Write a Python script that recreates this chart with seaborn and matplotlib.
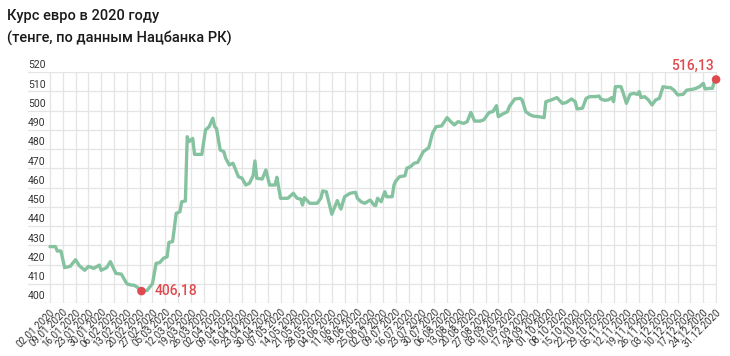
import pandas as pd
import matplotlib.pyplot as plt
import matplotlib.transforms as mtransforms
import seaborn as sns

# EUR/KZT rate
dates = [
    "2020-01-02", "2020-01-05", "2020-01-06", "2020-01-08", "2020-01-10", "2020-01-13",
    "2020-01-16", "2020-01-18", "2020-01-21", "2020-01-23", "2020-01-26", "2020-01-29",
    "2020-01-30",
    "2020-02-02", "2020-02-04", "2020-02-07", "2020-02-10", "2020-02-13", "2020-02-15",
    "2020-02-17", "2020-02-19", "2020-02-21", "2020-02-24", "2020-02-27", "2020-02-29",
    "2020-03-02", "2020-03-04", "2020-03-06", "2020-03-07", "2020-03-09", "2020-03-11",
    "2020-03-13", "2020-03-14", "2020-03-16", "2020-03-17", "2020-03-18", "2020-03-20",
    "2020-03-21", "2020-03-25", "2020-03-27", "2020-03-29", "2020-03-31",
    "2020-04-01", "2020-04-02", "2020-04-04", "2020-04-06", "2020-04-07", "2020-04-09",
    "2020-04-11", "2020-04-14", "2020-04-16", "2020-04-18", "2020-04-20", "2020-04-22",
    "2020-04-23", "2020-04-24", "2020-04-27", "2020-04-29",
    "2020-05-01", "2020-05-04", "2020-05-05", "2020-05-07", "2020-05-11", "2020-05-14",
    "2020-05-16", "2020-05-18", "2020-05-19", "2020-05-20", "2020-05-23", "2020-05-27",
    "2020-05-29", "2020-05-30",
    "2020-06-01", "2020-06-04", "2020-06-07", "2020-06-09", "2020-06-11", "2020-06-14",
    "2020-06-17", "2020-06-18", "2020-06-20", "2020-06-22", "2020-06-25", "2020-06-27",
    "2020-06-28", "2020-06-29",
    "2020-07-01", "2020-07-03", "2020-07-04", "2020-07-07", "2020-07-08", "2020-07-09",
    "2020-07-11", "2020-07-14", "2020-07-15", "2020-07-17", "2020-07-19", "2020-07-21",
    "2020-07-24", "2020-07-27", "2020-07-29", "2020-07-31",
    "2020-08-03", "2020-08-06", "2020-08-08", "2020-08-10", "2020-08-12", "2020-08-15",
    "2020-08-17", "2020-08-19", "2020-08-21", "2020-08-24", "2020-08-26", "2020-08-29",
    "2020-08-31",
    "2020-09-02", "2020-09-03", "2020-09-05", "2020-09-08", "2020-09-09", "2020-09-12",
    "2020-09-15", "2020-09-16", "2020-09-18", "2020-09-20", "2020-09-22", "2020-09-25",
    "2020-09-28", "2020-09-29",
    "2020-10-02", "2020-10-05", "2020-10-08", "2020-10-10", "2020-10-13", "2020-10-15",
    "2020-10-16", "2020-10-19", "2020-10-21", "2020-10-23", "2020-10-26", "2020-10-28",
    "2020-10-29", "2020-10-31",
    "2020-11-02", "2020-11-04", "2020-11-05", "2020-11-06", "2020-11-09", "2020-11-10",
    "2020-11-12", "2020-11-14", "2020-11-16", "2020-11-18", "2020-11-19", "2020-11-20",
    "2020-11-22", "2020-11-24", "2020-11-26", "2020-11-28", "2020-11-30",
    "2020-12-02", "2020-12-04", "2020-12-06", "2020-12-08", "2020-12-10", "2020-12-13",
    "2020-12-15", "2020-12-18", "2020-12-20", "2020-12-22", "2020-12-24", "2020-12-25",
    "2020-12-27", "2020-12-29", "2020-12-30", "2020-12-31",
]
rates = [
    429.3, 429.3, 427.0, 427.0, 418.4, 419.0,
    422.5, 419.4, 417.0, 419.0, 418.0, 419.7,
    417.0,
    418.4, 421.5, 415.4, 415.0, 410.0, 409.4,
    409.2, 408.0, 406.18, 406.5, 410.0, 420.6,
    421.0, 423.2, 424.0, 431.5, 431.9, 446.6,
    447.4, 452.6, 453.0, 486.4, 483.8, 485.5,
    477.2, 477.2, 489.9, 491.6, 496.0,
    491.6, 490.7, 479.5, 478.6, 475.2, 471.7,
    472.6, 465.6, 464.8, 461.3, 462.2, 466.1,
    473.8, 464.8, 464.4, 469.1,
    461.3, 461.3, 465.3, 454.4, 454.4, 457.0,
    454.4, 454.0, 450.9, 454.7, 451.8, 451.8,
    454.4, 458.2,
    457.8, 446.1, 453.2, 448.8, 455.2, 457.0,
    457.5, 454.4, 452.6, 451.8, 453.5, 450.9,
    450.6, 454.4,
    452.6, 457.8, 455.2, 455.2, 461.3, 463.4,
    465.6, 466.1, 470.0, 470.8, 472.6, 473.1,
    478.6, 480.7, 488.1, 491.6,
    492.0, 496.3, 494.2, 492.5, 494.2, 493.3,
    494.2, 499.0, 494.5, 494.5, 495.1, 499.0,
    499.4,
    502.5, 496.8, 498.0, 499.4, 502.0, 506.0,
    506.3, 505.5, 499.4, 498.0, 497.1, 496.8,
    496.3, 504.6,
    505.5, 506.7, 503.7, 504.1, 506.0, 504.6,
    500.8, 501.2, 506.3, 507.2, 507.2, 507.5,
    506.0, 505.3,
    505.5, 506.7, 504.6, 512.4, 512.4, 509.8,
    503.7, 508.4, 508.9, 508.4, 509.8, 506.7,
    507.2, 505.5, 502.9, 505.5, 506.3,
    512.4, 512.0, 511.9, 510.6, 508.1, 508.4,
    510.6, 511.0, 511.5, 512.4, 514.1, 511.2,
    511.5, 511.5, 515.0, 516.13,
]
min_label = "406,18"
last_label = "516,13"
y_ticks = list(range(400, 521, 10))
tick_dates = pd.date_range("2020-01-02", "2020-12-31", freq="7D")

line_color = "#84c2a0"
red = "#df4a4f"
text_color = "#333333"

sns.set_theme(style="white")
plt.rcParams["font.family"] = ["Roboto", "DejaVu Sans"]

df = pd.DataFrame({"date": pd.to_datetime(dates), "rate": rates})

fig = plt.figure(figsize=(7.3, 3.56), dpi=100)
ax = fig.add_axes([28 / 730, 53 / 356, 689 / 730, 231 / 356])

sns.lineplot(data=df, x="date", y="rate", ax=ax, color=line_color, linewidth=2.4)

# min and last points
min_idx = df["rate"].idxmin()
ends = df.loc[[min_idx, len(df) - 1]]
sns.scatterplot(data=ends, x="date", y="rate", ax=ax, color=red, s=38,
                edgecolor="none", zorder=5, clip_on=False, legend=False)
ax.annotate(min_label, (df.loc[min_idx, "date"], df.loc[min_idx, "rate"]),
            xytext=(9.5, 0), textcoords="offset points", ha="left", va="center",
            fontsize=10, color=red, fontweight="medium")
ax.annotate(last_label, (df["date"].iloc[-1], df["rate"].iloc[-1]),
            xytext=(-2, 9.5), textcoords="offset points", ha="right", va="center",
            fontsize=10, color=red, fontweight="medium")

ax.set_xlim(pd.Timestamp("2019-12-21"), pd.Timestamp("2020-12-31 12:00"))
ax.set_ylim(400, 520)

ax.set_xticks(tick_dates)
ax.set_xticklabels([d.strftime("%d.%m.%Y") for d in tick_dates],
                   rotation=45, ha="right", rotation_mode="anchor")
ax.tick_params(axis="x", length=0, pad=3, labelsize=7, labelcolor=text_color)
ax.set_yticks(y_ticks)
ax.tick_params(axis="y", length=0, labelleft=False)
ax.grid(True, color="#e4e4e4", linewidth=0.9)
ax.set_axisbelow(True)
for s in ax.spines.values():
    s.set_visible(False)
ax.set_xlabel("")
ax.set_ylabel("")

# y labels sit on top of the gridlines, inside the plot
trans = mtransforms.blended_transform_factory(ax.transAxes, ax.transData)
trans = mtransforms.offset_copy(trans, fig=fig, y=1.2, units="points")
for v in y_ticks:
    ax.text(0, v, str(v), transform=trans, ha="left", va="bottom",
            fontsize=7.5, color=text_color)

fig.text(7 / 730, 1 - 16 / 356, "Курс евро в 2020 году", ha="left", va="center",
         fontsize=10.5, fontweight="medium", color="#1a1a1a")
fig.text(7 / 730, 1 - 38 / 356, "(тенге, по данным Нацбанка РК)", ha="left", va="center",
         fontsize=10.5, fontweight="medium", color="#1a1a1a")

fig.savefig("out.png", dpi=100)
